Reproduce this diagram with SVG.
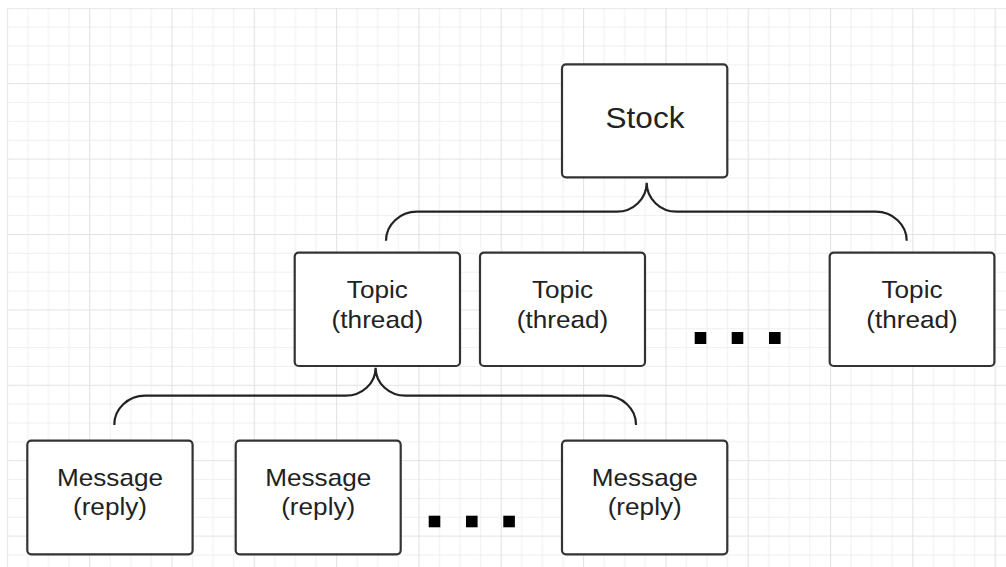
<svg xmlns="http://www.w3.org/2000/svg" width="1006" height="567" viewBox="0 0 1006 567">
  <defs>
    <pattern id="grid" x="6.8" y="7.8" width="82.32" height="75.4" patternUnits="userSpaceOnUse">
      <path d="M21.08 0V75.4M41.66 0V75.4M62.24 0V75.4M0 19.35H82.32M0 38.2H82.32M0 57.05H82.32" stroke="#efefef" stroke-width="1" fill="none"/>
      <path d="M0.5 0V75.4M0 0.5H82.32" stroke="#e3e3e3" stroke-width="1.2" fill="none"/>
    </pattern>
    <style>
      .box { fill: #ffffff; stroke: #333333; stroke-width: 2.2; }
      .lbl { font-family: "Liberation Sans", Arial, sans-serif; fill: #222222; text-anchor: middle; }
      .big { font-size: 30px; }
      .med { font-size: 24px; }
      .brace { fill: none; stroke: #222222; stroke-width: 2.2; }
      .dot { fill: #000000; }
    </style>
  </defs>
  <rect x="0" y="0" width="1006" height="567" fill="#ffffff"/>
  <rect x="6.8" y="7.8" width="1000" height="560" fill="url(#grid)"/>

  <g id="connectors">
    <path class="brace" d="M386 240.7 A31 29 0 0 1 417 211.7 H616.7 A30 29 0 0 0 646.7 182.7 A30 29 0 0 0 676.7 211.7 H875.7 A31 29 0 0 1 906.7 240.7"/>
    <path class="brace" d="M114.3 425 A31 29 0 0 1 145.3 395.7 H345.6 A30 28 0 0 0 375.6 367.7 A30 28 0 0 0 405.6 395.7 H605 A31 29 0 0 1 636 425"/>
  </g>

  <g id="stock">
    <rect class="box" x="562" y="64.3" width="165.3" height="113" rx="4"/>
    <text class="lbl big" transform="translate(645 127.5) scale(1.05 1)">Stock</text>
  </g>

  <g id="topic1">
    <rect class="box" x="294.7" y="252.7" width="165.3" height="113.3" rx="4"/>
    <text class="lbl med" transform="translate(377.4 298.3) scale(1.09 1)">Topic</text>
    <text class="lbl med" transform="translate(377.4 327.7) scale(1.09 1)">(thread)</text>
  </g>
  <g id="topic2">
    <rect class="box" x="480" y="252.7" width="165" height="113.3" rx="4"/>
    <text class="lbl med" transform="translate(562.5 298.3) scale(1.09 1)">Topic</text>
    <text class="lbl med" transform="translate(562.5 327.7) scale(1.09 1)">(thread)</text>
  </g>
  <g id="topic3">
    <rect class="box" x="829.7" y="252.7" width="164.7" height="113.3" rx="4"/>
    <text class="lbl med" transform="translate(912 298.3) scale(1.09 1)">Topic</text>
    <text class="lbl med" transform="translate(912 327.7) scale(1.09 1)">(thread)</text>
  </g>

  <g id="ellipsis-topics">
    <rect class="dot" x="694.7" y="332" width="11.6" height="12"/>
    <rect class="dot" x="731.7" y="332" width="11.6" height="12"/>
    <rect class="dot" x="769" y="332" width="11.6" height="12"/>
  </g>

  <g id="message1">
    <rect class="box" x="27.3" y="440.7" width="165.3" height="113.6" rx="4"/>
    <text class="lbl med" transform="translate(110 486) scale(1.09 1)">Message</text>
    <text class="lbl med" transform="translate(110 515) scale(1.09 1)">(reply)</text>
  </g>
  <g id="message2">
    <rect class="box" x="235.7" y="440.7" width="165" height="113.6" rx="4"/>
    <text class="lbl med" transform="translate(318.2 486) scale(1.09 1)">Message</text>
    <text class="lbl med" transform="translate(318.2 515) scale(1.09 1)">(reply)</text>
  </g>
  <g id="message3">
    <rect class="box" x="562" y="440.7" width="165.3" height="113.6" rx="4"/>
    <text class="lbl med" transform="translate(644.7 486) scale(1.09 1)">Message</text>
    <text class="lbl med" transform="translate(644.7 515) scale(1.09 1)">(reply)</text>
  </g>

  <g id="ellipsis-messages">
    <rect class="dot" x="428.7" y="515.7" width="11.6" height="11.6"/>
    <rect class="dot" x="466" y="515.7" width="11.6" height="11.6"/>
    <rect class="dot" x="503.3" y="515.7" width="11.6" height="11.6"/>
  </g>
</svg>
